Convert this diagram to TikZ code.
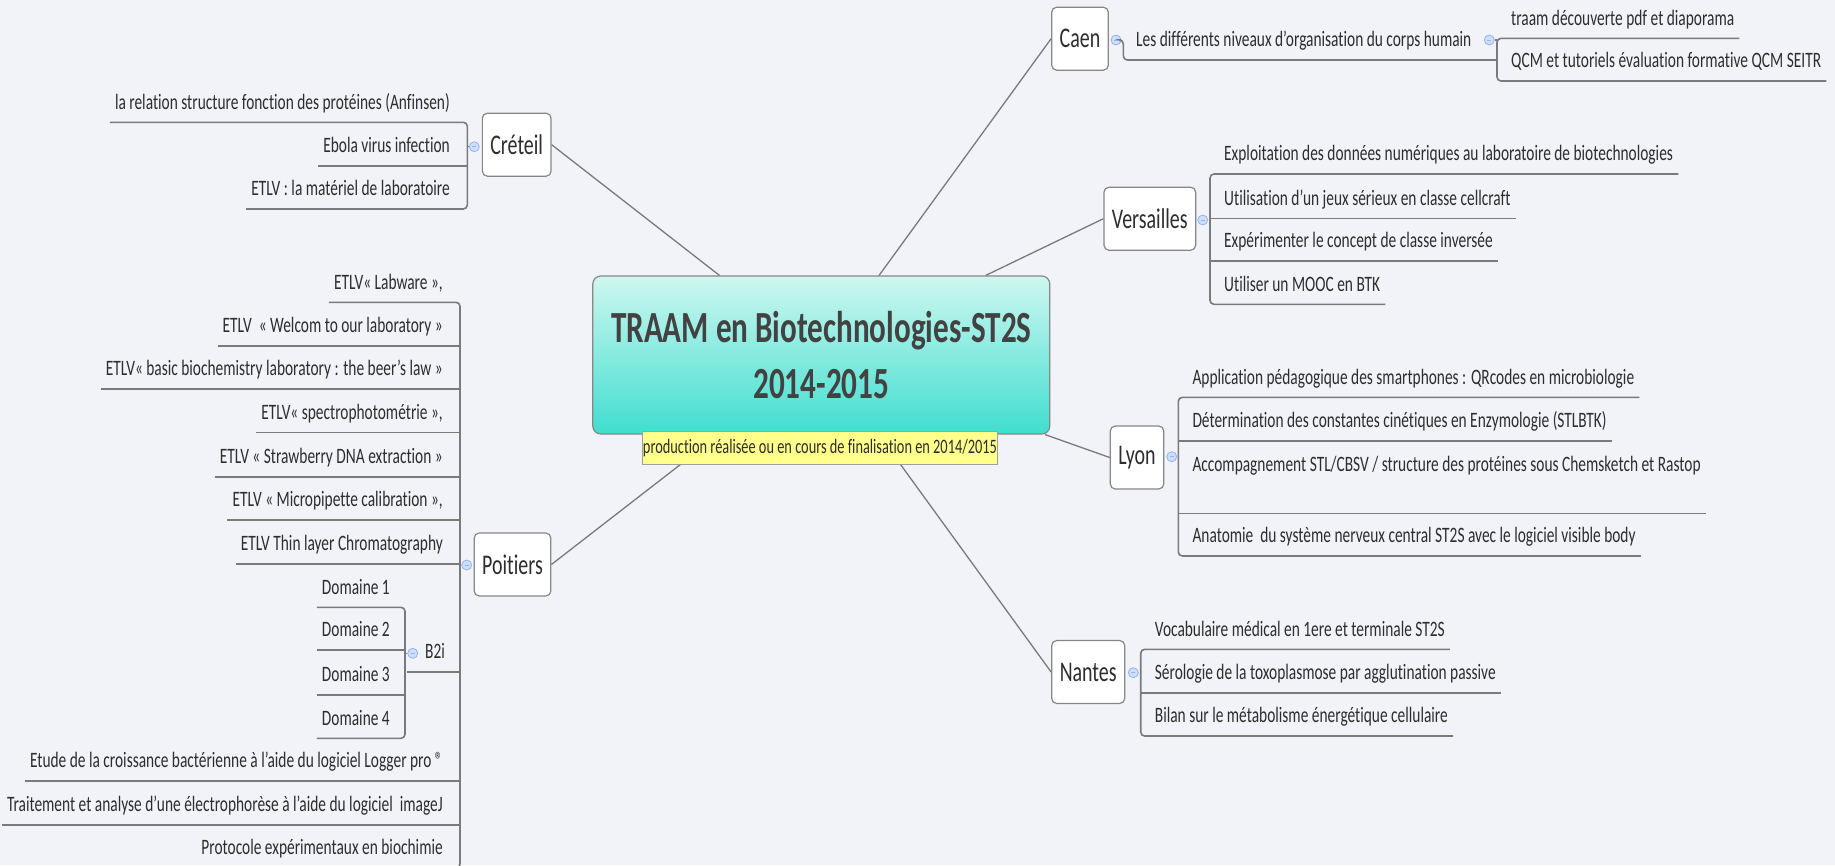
\documentclass[tikz,border=0pt]{standalone}
\usepackage{fontspec}
\setmainfont{Carlito}[FakeStretch=0.7, Ligatures={TeX,NoCommon}]
\usetikzlibrary{positioning}

\definecolor{bgc}{RGB}{242,243,248}
\definecolor{txt}{RGB}{45,45,45}
\definecolor{lnc}{RGB}{122,122,122}
\definecolor{boxc}{RGB}{135,135,135}
\definecolor{tglfill}{RGB}{205,222,250}
\definecolor{tgldraw}{RGB}{150,180,235}
\definecolor{notec}{RGB}{255,255,140}
\definecolor{topc}{RGB}{206,247,240}
\definecolor{botc}{RGB}{64,222,207}

\newcommand\leaffont{\fontsize{22}{24}\selectfont}

\tikzset{
  region/.style={draw=boxc, fill=white, rounded corners=5pt, line width=1.2pt,
    inner xsep=8pt, minimum height=63pt, text=txt, font=\fontsize{28.5}{30}\selectfont},
  leafL/.style={anchor=south east, inner xsep=5pt, inner ysep=0pt,
    text height=16pt, text depth=13pt, text=txt, font=\leaffont},
  leafR/.style={leafL, anchor=south west},
  uline/.style={draw=lnc, line width=1.6pt, rounded corners=4pt},
  link/.style={draw=lnc, line width=1.3pt},
  tgl/.style={circle, draw=tgldraw, fill=tglfill, minimum size=10pt, inner sep=0pt, line width=0.8pt,
    path picture={\draw[tgldraw, line width=0.8pt] ([xshift=-2pt]path picture bounding box.center)
      -- ([xshift=2pt]path picture bounding box.center);}},
}

\begin{document}
\begin{tikzpicture}[x=1pt, y=-1pt]
	\useasboundingbox (0,0) rectangle (1835,865);
	\clip (0,0) rectangle (1835,865);
	\fill[bgc] (0,0) rectangle (1835,865);

	\node[draw=boxc, line width=1.2pt, rounded corners=8pt, top color=topc, bottom color=botc,
	  minimum width=457pt, minimum height=158pt, align=center, text=txt!90,
	  font=\bfseries\fontsize{44.5}{56.7}\selectfont] (title) at (821.3,355) {TRAAM en Biotechnologies-ST2S\\2014-2015};

	\node[region] (creteil) at (516.7,144.7) {Créteil};
	\node[region] (poitiers) at (512.5,564.5) {Poitiers};
	\node[region] (caen) at (1080,38.7) {Caen};
	\node[region] (versailles) at (1149.8,218.7) {Versailles};
	\node[region] (lyon) at (1137,457.5) {Lyon};
	\node[region] (nantes) at (1088.2,672) {Nantes};

	\draw[link] (title) -- (creteil.east);
	\draw[link] (title) -- (poitiers.east);
	\draw[link] (title) -- (caen.west);
	\draw[link] (title) -- (versailles.west);
	\draw[link] (title) -- (lyon.west);
	\draw[link] (title) -- (nantes.west);

	\node[draw=boxc!80, line width=1pt, fill=notec, minimum width=354.6pt, minimum height=33.3pt, inner sep=0pt,
	  text=txt, font=\fontsize{20.5}{22}\selectfont] (note) at (820,448.3) {production réalisée ou en cours de finalisation en 2014/2015};

	% Créteil
	\coordinate (crbr) at (467.3,0);
	\node[tgl] (crtgl) at (474.3,146.7) {};
	\node[leafL] (cr1) at (455,122.3) {la relation structure fonction des protéines (Anfinsen)};
	\node[leafL] (cr2) at (455,165.7) {Ebola virus infection};
	\node[leafL] (cr3) at (455,209) {ETLV : la matériel de laboratoire};
	\draw[uline] (cr1.south west) -- (cr1.south west -| crbr) -- (cr3.south west -| crbr) -- (cr3.south west);
	\draw[uline] (cr2.south west) -- (cr2.south west -| crbr);
	\draw[link] (crtgl.west) -- (crtgl.west -| crbr);

	% Poitiers
	\coordinate (pobr) at (460,0);
	\node[tgl] (potgl) at (466.7,565) {};
	\node[leafL] (p1) at (448,302.3) {ETLV« Labware »,};
	\node[leafL] (p2) at (448,345.7) {ETLV~ « Welcom to our laboratory »};
	\node[leafL] (p3) at (448,389) {ETLV« basic biochemistry laboratory : the beer's law »};
	\node[leafL] (p4) at (448,432.3) {ETLV« spectrophotométrie »,};
	\node[leafL] (p5) at (448,476.7) {ETLV « Strawberry DNA extraction »};
	\node[leafL] (p6) at (448,520) {ETLV « Micropipette calibration »,};
	\node[leafL] (p7) at (448,564) {ETLV Thin layer Chromatography};
	\node[leafR] (b2i) at (420,671.7) {B2i};
	\node[leafL] (p8) at (448,781) {Etude de la croissance bactérienne à l'aide du logiciel Logger pro ®};
	\node[leafL] (p9) at (448,825) {Traitement et analyse d'une électrophorèse à l'aide du logiciel~ imageJ};
	\node[leafL] (p10) at (448,868) {Protocole expérimentaux en biochimie};
	\draw[uline] (p1.south west) -- (p1.south west -| pobr) -- (p10.south west -| pobr) -- (p10.south west);
	\foreach \i in {2,...,9}
		\draw[uline] (p\i.south west) -- (p\i.south west -| pobr);
	\draw[link] (potgl.west) -- (potgl.west -| pobr);

	% B2i
	\coordinate (b2br) at (405,0);
	\node[tgl] (b2tgl) at (412.7,653.3) {};
	\node[leafL] (d1) at (395,607.3) {Domaine 1};
	\node[leafL] (d2) at (395,650) {Domaine 2};
	\node[leafL] (d3) at (395,695) {Domaine 3};
	\node[leafL] (d4) at (395,738.3) {Domaine 4};
	\draw[uline] (b2i.south -| b2tgl.west) -- (b2i.south -| pobr);
	\draw[uline] (d1.south west) -- (d1.south west -| b2br) -- (d4.south west -| b2br) -- (d4.south west);
	\draw[uline] (d2.south west) -- (d2.south west -| b2br);
	\draw[uline] (d3.south west) -- (d3.south west -| b2br);
	\draw[link] (b2tgl.west) -- (b2tgl.west -| b2br);

	% Caen
	\coordinate (cnbr) at (1123.3,0);
	\coordinate (cn2br) at (1497,0);
	\node[tgl] (cntgl) at (1116,40) {};
	\node[leafR] (cn0) at (1131,60) {Les différents niveaux d'organisation du corps humain};
	\node[tgl] (cn2tgl) at (1489.3,40) {};
	\node[leafR] (cn1) at (1506,38.3) {traam découverte pdf et diaporama};
	\node[leafR] (cn2) at (1506,81) {QCM et tutoriels évaluation formative QCM SEITR};
	\draw[uline] (cntgl.east) -- (cntgl.east -| cnbr) -- (cn0.south -| cnbr) -- (cn0.south -| cn2br);
	\draw[uline] (cn1.south east) -- (cn1.south east -| cn2br) -- (cn2.south east -| cn2br) -- (cn2.south east);
	\draw[link] (cn2tgl.east) -- (cn2tgl.east -| cn2br);

	% Versailles
	\coordinate (vsbr) at (1210,0);
	\node[tgl] (vstgl) at (1202.7,220) {};
	\node[leafR] (v1) at (1219,174) {Exploitation des données numériques au laboratoire de biotechnologies};
	\node[leafR] (v2) at (1219,218.3) {Utilisation d'un jeux sérieux en classe cellcraft};
	\node[leafR] (v3) at (1219,261) {Expérimenter le concept de classe inversée};
	\node[leafR] (v4) at (1219,304.3) {Utiliser un MOOC en BTK};
	\draw[uline] (v1.south east) -- (v1.south east -| vsbr) -- (v4.south east -| vsbr) -- (v4.south east);
	\draw[uline] (v2.south east) -- (v2.south east -| vsbr);
	\draw[uline] (v3.south east) -- (v3.south east -| vsbr);

	% Lyon
	\coordinate (lybr) at (1178.3,0);
	\node[tgl] (lytgl) at (1171.7,456.7) {};
	\node[leafR] (l1) at (1187.3,397.3) {Application pédagogique des smartphones : QRcodes en microbiologie};
	\node[leafR] (l2) at (1187.3,440.7) {Détermination des constantes cinétiques en Enzymologie (STLBTK)};
	\node[leafR, text depth=42pt] (l3) at (1187.3,513.3) {Accompagnement STL/CBSV / structure des protéines sous Chemsketch et Rastop};
	\node[leafR] (l4) at (1187.3,556) {Anatomie~ du système nerveux central ST2S avec le logiciel visible body};
	\draw[uline] (l1.south east) -- (l1.south east -| lybr) -- (l4.south east -| lybr) -- (l4.south east);
	\draw[uline] (l2.south east) -- (l2.south east -| lybr);
	\draw[uline] (l3.south east) -- (l3.south east -| lybr);

	% Nantes
	\coordinate (nabr) at (1140.7,0);
	\node[tgl] (natgl) at (1133.3,672.7) {};
	\node[leafR] (n1) at (1149.7,649.3) {Vocabulaire médical en 1ere et terminale ST2S};
	\node[leafR] (n2) at (1149.7,692.7) {Sérologie de la toxoplasmose par agglutination passive};
	\node[leafR] (n3) at (1149.7,736) {Bilan sur le métabolisme énergétique cellulaire};
	\draw[uline] (n1.south east) -- (n1.south east -| nabr) -- (n3.south east -| nabr) -- (n3.south east);
	\draw[uline] (n2.south east) -- (n2.south east -| nabr);

\end{tikzpicture}
\end{document}
